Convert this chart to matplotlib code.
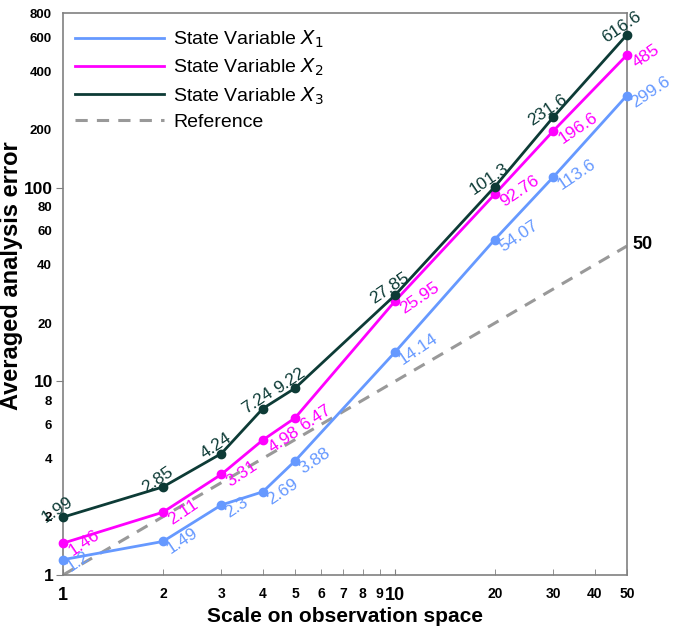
import matplotlib
matplotlib.use("Agg")
import matplotlib.pyplot as plt
from matplotlib.lines import Line2D
from matplotlib.ticker import FixedLocator

plt.rcParams['font.family'] = ['Liberation Sans', 'DejaVu Sans']

scales = [1, 2, 3, 4, 5, 10, 20, 30, 50]
x1_vals = [1.2, 1.49, 2.3, 2.69, 3.88, 14.14, 54.07, 113.6, 299.6]
x2_vals = [1.46, 2.11, 3.31, 4.98, 6.47, 25.95, 92.76, 196.6, 485]
x3_vals = [1.99, 2.85, 4.24, 7.24, 9.22, 27.85, 101.3, 231.6, 616.6]
x1_labels = ["1.2", "1.49", "2.3", "2.69", "3.88", "14.14", "54.07", "113.6", "299.6"]
x2_labels = ["1.46", "2.11", "3.31", "4.98", "6.47", "25.95", "92.76", "196.6", "485"]
x3_labels = ["1.99", "2.85", "4.24", "7.24", "9.22", "27.85", "101.3", "231.6", "616.6"]
ref_x = [1, 50]
ref_y = [1, 50]

y_major = [1, 10, 100]
y_minor = [2, 4, 6, 8, 20, 40, 60, 80, 200, 400, 600, 800]
x_major = [1, 10]
x_minor = [2, 3, 4, 5, 6, 7, 8, 9, 20, 30, 40, 50]

c1 = '#6699ff'
c2 = '#ff00ff'
c3 = '#0d3b36'
cref = '#999999'

fig = plt.figure(figsize=(6.74, 6.35), dpi=100)
ax = fig.add_axes([0.0935, 0.0945, 0.8365, 0.885])
ax.set_xscale('log')
ax.set_yscale('log')
ax.set_xlim(1, 50)
ax.set_ylim(1, 800)

ax.plot(scales, x1_vals, color=c1, lw=2, marker='o', ms=6, clip_on=False, zorder=3)
ax.plot(scales, x2_vals, color=c2, lw=2, marker='o', ms=6, clip_on=False, zorder=4)
ax.plot(scales, x3_vals, color=c3, lw=2, marker='o', ms=6, clip_on=False, zorder=5)
ax.plot(ref_x, ref_y, color=cref, lw=2.2, ls=(0, (4, 3)), zorder=2)

rot = 34
fs_lab = 12.5
for xv, yv, t in zip(scales, x1_vals, x1_labels):
    ax.annotate(t, (xv, yv), xytext=(1, -2), textcoords='offset points', color=c1,
                fontsize=fs_lab, rotation=rot, rotation_mode='anchor', ha='left', va='top',
                annotation_clip=False)
for xv, yv, t in zip(scales, x2_vals, x2_labels):
    ax.annotate(t, (xv, yv), xytext=(2, -2), textcoords='offset points', color=c2,
                fontsize=fs_lab, rotation=rot, rotation_mode='anchor', ha='left', va='top',
                annotation_clip=False)
for xv, yv, t in zip(scales, x3_vals, x3_labels):
    ax.annotate(t, (xv, yv), xytext=(-1, 1), textcoords='offset points', color=c3,
                fontsize=fs_lab, rotation=rot, rotation_mode='anchor', ha='center', va='bottom',
                annotation_clip=False)

ax.annotate('50', (ref_x[-1], ref_y[-1]), xytext=(4, 1), textcoords='offset points',
            fontsize=13, fontweight='bold', ha='left', va='center', annotation_clip=False)

for s in ax.spines.values():
    s.set_color('#808080')
    s.set_linewidth(1.2)

ax.yaxis.set_major_locator(FixedLocator(y_major))
ax.yaxis.set_minor_locator(FixedLocator(y_minor))
ax.set_yticklabels([str(v) for v in y_major], fontsize=12.5, fontweight='bold')
ax.set_yticklabels([str(v) for v in y_minor], minor=True, fontsize=9.5, fontweight='bold')
ax.tick_params(axis='y', which='major', direction='out', length=5, color='#808080', pad=2)
ax.tick_params(axis='y', which='minor', length=0, pad=8)

ax.xaxis.set_major_locator(FixedLocator(x_major))
ax.xaxis.set_minor_locator(FixedLocator(x_minor))
ax.set_xticklabels([str(v) for v in x_major], fontsize=13, fontweight='bold')
ax.set_xticklabels([str(v) for v in x_minor], minor=True, fontsize=10, fontweight='bold')
ax.tick_params(axis='x', which='both', direction='in', length=4, color='#808080', pad=9)

ax.set_xlabel('Scale on observation space', fontsize=15, fontweight='bold', labelpad=2)
ax.set_ylabel('Averaged analysis error', fontsize=17, fontweight='bold')
ax.yaxis.set_label_coords(-0.071, 0.533)

handles = [
    Line2D([], [], color=c1, lw=2),
    Line2D([], [], color=c2, lw=2),
    Line2D([], [], color=c3, lw=2),
    Line2D([], [], color=cref, lw=2.2, ls=(0, (4, 3))),
]
labels = ['State Variable $X_1$', 'State Variable $X_2$', 'State Variable $X_3$', 'Reference']
ax.legend(handles, labels, loc='upper left', frameon=False, fontsize=14, handlelength=4.6,
          bbox_to_anchor=(0.0, 0.993), borderaxespad=0.2, labelspacing=0.36, handletextpad=0.45)

fig.savefig('out.png', dpi=100)
